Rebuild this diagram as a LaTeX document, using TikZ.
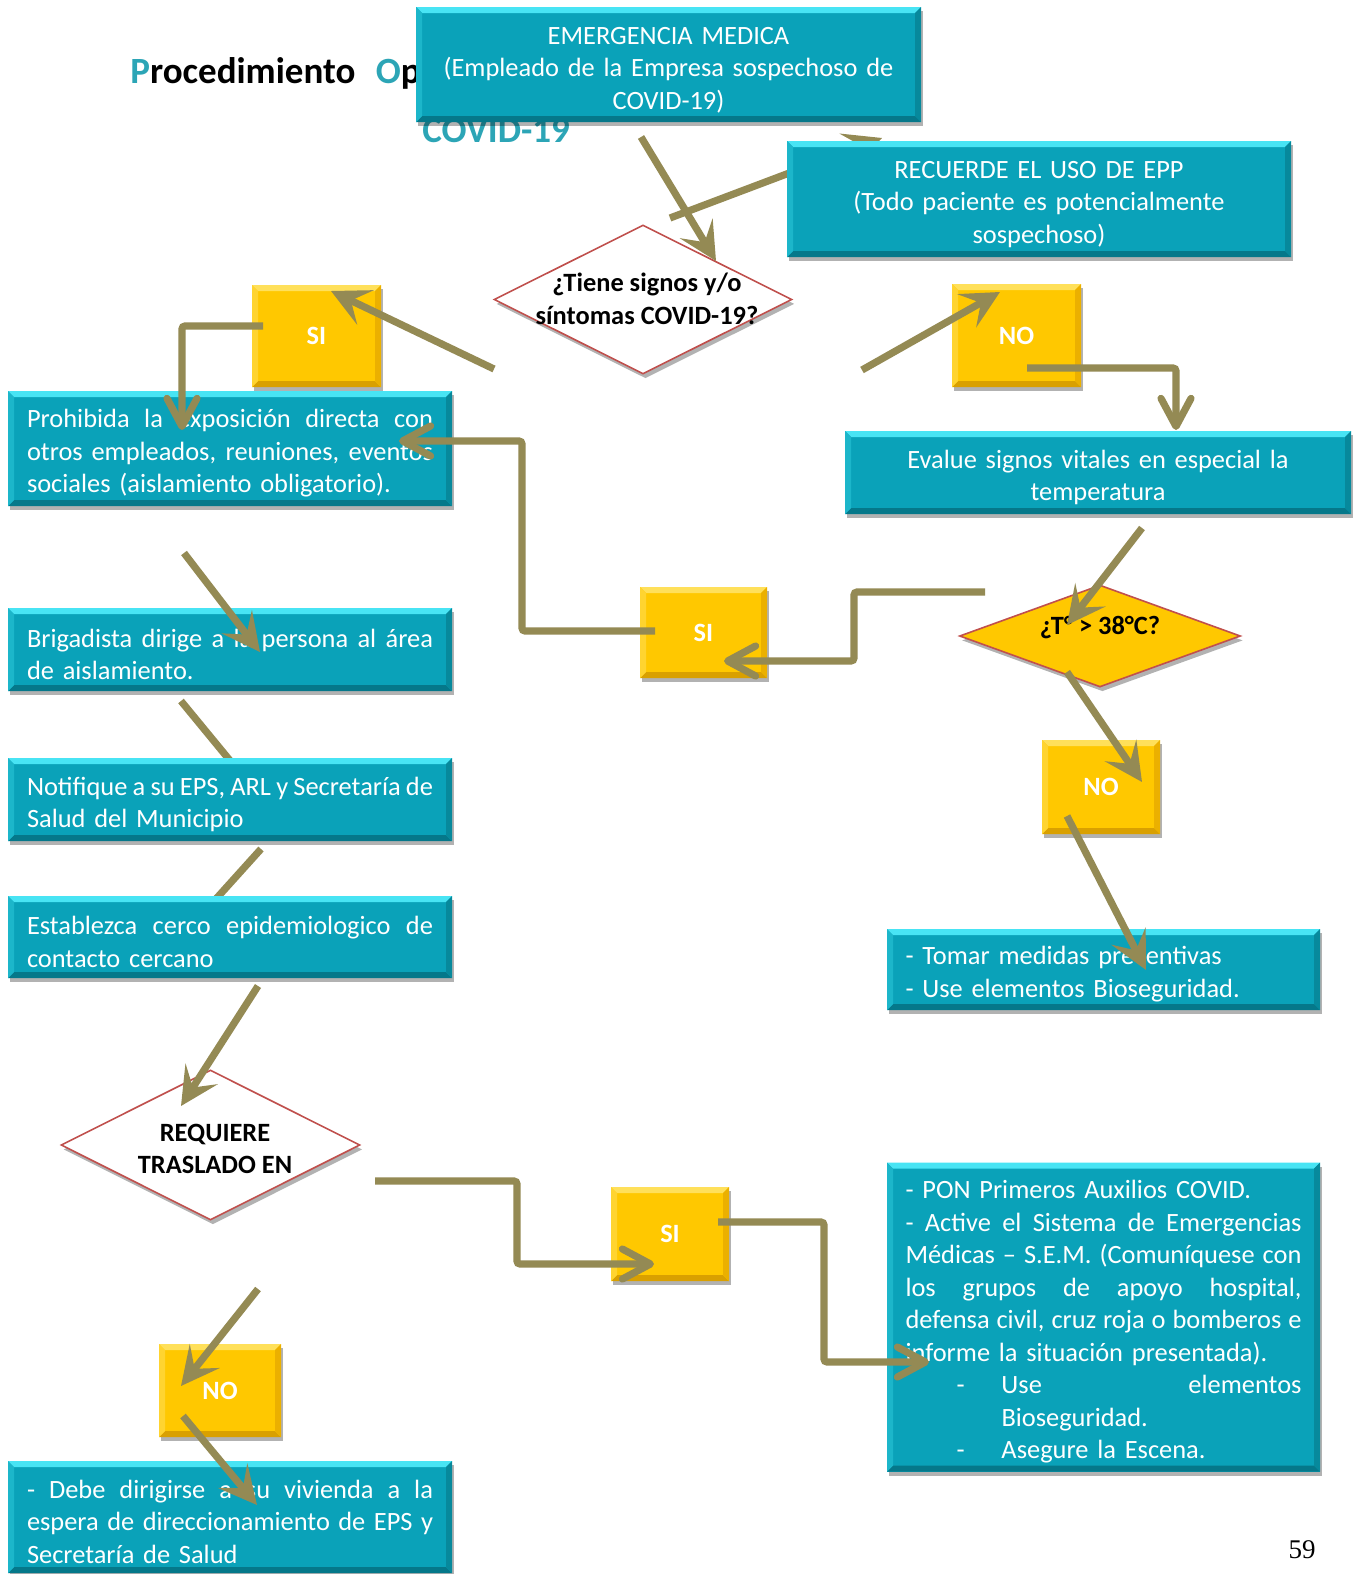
\documentclass[tikz,border=0pt]{standalone}
\usepackage{fontspec}
\setmainfont{Carlito}
\newfontfamily\numfont{Liberation Serif}
\usetikzlibrary{arrows.meta,shadows,shapes.geometric}
\setlength{\parindent}{0pt}
\definecolor{teal1}{HTML}{0AA2B9}
\definecolor{tealtop}{HTML}{48E4F4}
\definecolor{tealbot}{HTML}{05788A}
\definecolor{tealside}{HTML}{1CB6CA}
\definecolor{tealrs}{HTML}{07899C}
\definecolor{yel}{HTML}{FFC800}
\definecolor{yeltop}{HTML}{FFE05A}
\definecolor{yelbot}{HTML}{D9A000}
\definecolor{yelside}{HTML}{FFD430}
\definecolor{yelrs}{HTML}{EBB000}
\definecolor{olive}{HTML}{948A54}
\definecolor{dred}{HTML}{C0504D}
\definecolor{ttl}{HTML}{2CA5B6}
\newcommand\fs{\fontsize{13.2}{16.25}\selectfont}
\newcommand\J[1]{\leavevmode\hbox to \hsize{\spaceskip=0.226em plus 1fil minus 0.15em\relax #1}}
\tikzset{
  bev/.style n args={4}{path picture={
    \fill[#1] (path picture bounding box.north west) -- (path picture bounding box.north east) -- ([shift={(-3pt,-3pt)}]path picture bounding box.north east) -- ([shift={(3pt,-3pt)}]path picture bounding box.north west) -- cycle;
    \fill[#2] (path picture bounding box.south west) -- (path picture bounding box.south east) -- ([shift={(-3pt,3pt)}]path picture bounding box.south east) -- ([shift={(3pt,3pt)}]path picture bounding box.south west) -- cycle;
    \fill[#3] (path picture bounding box.north west) -- ([shift={(3pt,-3pt)}]path picture bounding box.north west) -- ([shift={(3pt,3pt)}]path picture bounding box.south west) -- (path picture bounding box.south west) -- cycle;
    \fill[#4] (path picture bounding box.north east) -- ([shift={(-3pt,-3pt)}]path picture bounding box.north east) -- ([shift={(-3pt,3pt)}]path picture bounding box.south east) -- (path picture bounding box.south east) -- cycle;
  }},
  shad/.style={drop shadow={shadow xshift=1.2pt, shadow yshift=-2.2pt, opacity=0.3, fill=black}},
  tealbox/.style={fill=teal1, text=white, font=\fs, inner sep=0pt, shad, bev={tealtop}{tealbot}{tealside}{tealrs},
    execute at begin node={\rule{0pt}{14pt}}},
  yelbox/.style={fill=yel, text=white, font=\fs\bfseries, inner sep=0pt, shad, bev={yeltop}{yelbot}{yelside}{yelrs}},
  dia/.style={diamond, draw=dred, line width=0.8pt, inner sep=0pt, shad},
  diatext/.style={font=\fs\bfseries, align=center, inner sep=0pt, text=black},
  conn/.style={draw=olive, line width=3.6pt},
  barb/.style={conn, -{Stealth[length=19pt,width=19pt,inset=8pt]}},
  vh/.style={conn, rounded corners=1.5pt, -{Straight Barb[length=14pt,width=15pt,round]}},
  ttlfont/.style={font=\fontsize{18.5}{21}\selectfont\bfseries},
}
\begin{document}
\begin{tikzpicture}[x=0.5pt,y=-0.5pt]
\useasboundingbox (0,0) rectangle (1355,1574);
\fill[white] (0,0) rectangle (1355,1574);

% title fragments
\node[anchor=base west, inner sep=0pt, ttlfont] (title) at (130,83) {\textcolor{ttl}{P}rocedimiento\hspace{0.55em}\textcolor{ttl}{O}p};
\node[anchor=base west, inner sep=0pt, ttlfont, text=ttl] (covid) at (422,142) {COVID-19};

% coordinates
\coordinate (a1s) at (641,137);  \coordinate (a1e) at (716,261);
\coordinate (a2s) at (670,218);  \coordinate (a2e) at (882,138);
\coordinate (a3s) at (494,369);  \coordinate (a3e) at (331,291);
\coordinate (a4s) at (862,370);  \coordinate (a4e) at (1000,292);
\coordinate (a5s) at (263,326);  \coordinate (a5m) at (182,326);  \coordinate (a5e) at (182,430);
\coordinate (a6s) at (1027,368); \coordinate (a6m) at (1176,368); \coordinate (a6e) at (1176,430);
\coordinate (a7s) at (1142,528); \coordinate (a7e) at (1067,625);
\coordinate (a8s) at (985,592);  \coordinate (a8m) at (854,592);  \coordinate (a8n) at (854,661); \coordinate (a8e) at (724,661);
\coordinate (a9s) at (655,631);  \coordinate (a9m) at (522,631);  \coordinate (a9n) at (522,441); \coordinate (a9e) at (399,441);
\coordinate (a10s) at (184,553); \coordinate (a10e) at (260,652);
\coordinate (a11s) at (181,701); \coordinate (a11e) at (232,763);
\coordinate (a12s) at (261,849); \coordinate (a12e) at (215,900);
\coordinate (a13s) at (258,986); \coordinate (a13e) at (181,1106);
\coordinate (a14s) at (375,1181); \coordinate (a14m) at (517,1181); \coordinate (a14n) at (517,1264); \coordinate (a14e) at (654,1264);
\coordinate (a15s) at (718,1222); \coordinate (a15m) at (824,1222); \coordinate (a15n) at (824,1362); \coordinate (a15e) at (929,1362);
\coordinate (a16s) at (1067,672); \coordinate (a16e) at (1142,782);
\coordinate (a17s) at (1067,816); \coordinate (a17e) at (1146,970);
\coordinate (a18s) at (258,1289); \coordinate (a18e) at (181,1386);
\coordinate (a19s) at (183,1416); \coordinate (a19e) at (257,1505);

% connectors hidden behind boxes
\draw[barb] (a2s) -- (a2e);
\draw[conn] (a11s) -- (a11e);
\draw[conn] (a12s) -- (a12e);

% teal boxes
\node[tealbox, minimum width=252.5pt, minimum height=57.5pt, text width=246pt, align=center] (emerg) at (668.5,64.5)
  {EMERGENCIA MEDICA\\(Empleado de la Empresa sospechoso de\\COVID-19)};
\node[tealbox, minimum width=252pt, minimum height=58pt, text width=246pt, align=center] (recu) at (1039,199)
  {RECUERDE EL USO DE EPP\\(Todo paciente es potencialmente\\sospechoso)};
\node[tealbox, minimum width=222pt, minimum height=57.5pt, text width=203pt, align=left] (prohib) at (230,448.5)
  {\J{Prohibida la exposición directa con}\\\J{otros empleados, reuniones, eventos}\\sociales (aislamiento obligatorio).};
\node[tealbox, minimum width=253pt, minimum height=41.5pt, text width=246pt, align=center] (evalue) at (1098,472.5)
  {Evalue signos vitales en especial la\\temperatura};
\node[tealbox, minimum width=222pt, minimum height=41.5pt, text width=203pt, align=left] (brig) at (230,649.5)
  {\J{Brigadista dirige a la persona al área}\\de aislamiento.};
\node[tealbox, minimum width=222pt, minimum height=41.5pt, text width=203pt, align=left] (notif) at (230,799.5)
  {\J{Notifique a su EPS, ARL y Secretaría de}\\Salud del Municipio};
\node[tealbox, minimum width=222pt, minimum height=41pt, text width=203pt, align=left] (estab) at (230,937)
  {\J{Establezca cerco epidemiologico de}\\contacto cercano};
\node[tealbox, minimum width=216.5pt, minimum height=40.5pt, text width=198pt, align=left] (tomar) at (1103.5,969.5)
  {- Tomar medidas preventivas\\- Use elementos Bioseguridad.};
\node[tealbox, minimum width=216.5pt, minimum height=154.5pt, text width=198pt, align=left] (pon) at (1103.5,1317)
  {- PON Primeros Auxilios COVID.\\
   \J{- Active el Sistema de Emergencias}\\
   \J{Médicas – S.E.M. (Comuníquese con}\\
   \J{los grupos de apoyo hospital,}\\
   \J{defensa civil, cruz roja o bomberos e}\\
   informe la situación presentada).\\
   \leavevmode\makebox[\hsize][l]{\hspace*{25.5pt}\makebox[22.5pt][l]{-}Use\hfill elementos}\\
   \leavevmode\hspace*{48pt}Bioseguridad.\\
   \leavevmode\hspace*{25.5pt}\makebox[22.5pt][l]{-}Asegure la Escena.};
\node[tealbox, minimum width=222pt, minimum height=56pt, text width=203pt, align=left] (debe) at (230,1517)
  {\J{- Debe dirigirse a su vivienda a la}\\\J{espera de direccionamiento de EPS y}\\Secretaría de Salud};

% yellow boxes
\node[yelbox, minimum width=64.5pt, minimum height=51pt] (si1) at (316.5,336) {SI};
\node[yelbox, minimum width=64.5pt, minimum height=51.5pt] (no1) at (1016.5,335.5) {NO};
\node[yelbox, minimum width=63.5pt, minimum height=45.5pt] (si2) at (703.5,632.5) {SI};
\node[yelbox, minimum width=59pt, minimum height=47pt] (no2) at (1101,787) {NO};
\node[yelbox, minimum width=59pt, minimum height=47pt] (si3) at (670,1234) {SI};
\node[yelbox, minimum width=61pt, minimum height=46.5pt] (no3) at (220,1390.5) {NO};

% diamonds
\node[dia, fill=white, minimum width=149pt, minimum height=74.5pt] (d1) at (643,299.5) {};
\node[diatext] (d1t) at (647,299) {¿Tiene signos y/o\\síntomas COVID-19?};
\node[dia, fill=yel, minimum width=140.5pt, minimum height=51pt] (d2) at (1100,636) {};
\node[diatext] (d2t) at (1100,628) {¿T° > 38°C?};
\node[dia, fill=white, minimum width=149.5pt, minimum height=75pt] (d3) at (210.5,1145) {};
\node[diatext] (d3t) at (215,1149) {REQUIERE\\TRASLADO EN};

% page number
\node[font=\numfont\fontsize{13.5}{15}\selectfont, inner sep=0pt] (pg) at (1302,1550) {59};

% connectors on top
\draw[barb] (a1s) -- (a1e);
\draw[barb] (a3s) -- (a3e);
\draw[barb] (a4s) -- (a4e);
\draw[vh] (a5s) -- (a5m) -- (a5e);
\draw[vh] (a6s) -- (a6m) -- (a6e);
\draw[barb] (a7s) -- (a7e);
\draw[vh] (a8s) -- (a8m) -- (a8n) -- (a8e);
\draw[vh] (a9s) -- (a9m) -- (a9n) -- (a9e);
\draw[barb] (a10s) -- (a10e);
\draw[barb] (a13s) -- (a13e);
\draw[vh] (a14s) -- (a14m) -- (a14n) -- (a14e);
\draw[vh] (a15s) -- (a15m) -- (a15n) -- (a15e);
\draw[barb] (a16s) -- (a16e);
\draw[barb] (a17s) -- (a17e);
\draw[barb] (a18s) -- (a18e);
\draw[barb] (a19s) -- (a19e);
\end{tikzpicture}
\end{document}
